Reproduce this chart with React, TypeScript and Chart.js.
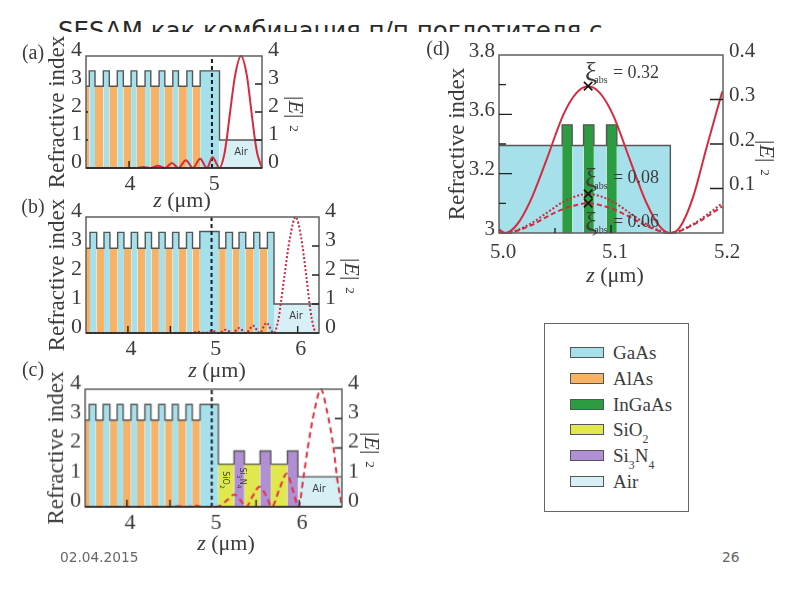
import React, { useEffect, useRef } from "react";
import { Chart, registerables } from "chart.js";

Chart.register(...registerables);

const SERIF = '"Liberation Serif", serif';
const SANS = '"DejaVu Sans", sans-serif';
const INK = "#3c3c3c";

const materialColors: Record<string, string> = {
  GaAs: "#a6e0ea",
  AlAs: "#f8b266",
  InGaAs: "#2c9c40",
  SiO2: "#e0e84e",
  Si3N4: "#b18fd4",
  Air: "#d6f0f5",
};

const slideTitle = "SESAM как комбинация п/п поглотителя с";
const slideDate = "02.04.2015";
const slidePage = "26";

// Panel (a)
const aEdges = [3.488, 3.527, 3.595, 3.694, 3.765, 3.86, 3.932, 4.024, 4.092, 4.19, 4.258, 4.357, 4.425, 4.52, 4.587, 4.687, 4.754, 4.845, 5.075, 5.58];
const aMaterials = ["AlAs", "GaAs", "AlAs", "GaAs", "AlAs", "GaAs", "AlAs", "GaAs", "AlAs", "GaAs", "AlAs", "GaAs", "AlAs", "GaAs", "AlAs", "GaAs", "AlAs", "GaAs", "Air"];
const aIndex = [2.92, 3.47, 2.92, 3.47, 2.92, 3.47, 2.92, 3.47, 2.92, 3.47, 2.92, 3.47, 2.92, 3.47, 2.92, 3.47, 2.92, 3.47, 1];
const aFieldZ = [3.49, 4.083, 4.17, 4.258, 4.342, 4.429, 4.508, 4.587, 4.675, 4.758, 4.845, 4.925, 4.992, 5.075, 5.133, 5.159, 5.201, 5.26, 5.33, 5.4, 5.455, 5.497, 5.525, 5.58];
const aFieldE = [0, 0, 0.04, 0, 0.08, 0, 0.18, 0, 0.28, 0, 0.33, 0, 0.38, 0, 0.5, 1, 2, 3.3, 4, 3.3, 2, 1, 0.5, 0];

// Panel (b)
const bEdges = [3.506, 3.553, 3.632, 3.718, 3.788, 3.879, 3.953, 4.039, 4.114, 4.204, 4.278, 4.365, 4.439, 4.526, 4.6, 4.69, 4.761, 4.847, 5.074, 5.153, 5.232, 5.309, 5.388, 5.482, 5.553, 5.643, 5.721, 6.251];
const bMaterials = ["AlAs", "GaAs", "AlAs", "GaAs", "AlAs", "GaAs", "AlAs", "GaAs", "AlAs", "GaAs", "AlAs", "GaAs", "AlAs", "GaAs", "AlAs", "GaAs", "AlAs", "GaAs", "AlAs", "GaAs", "AlAs", "GaAs", "AlAs", "GaAs", "AlAs", "GaAs", "Air"];
const bIndex = [2.92, 3.47, 2.92, 3.47, 2.92, 3.47, 2.92, 3.47, 2.92, 3.47, 2.92, 3.47, 2.92, 3.47, 2.92, 3.47, 2.92, 3.5, 2.92, 3.47, 2.92, 3.47, 2.92, 3.47, 2.92, 3.47, 1];
const bFieldZ = [3.506, 4.5, 4.74, 4.827, 4.906, 4.992, 5.074, 5.153, 5.232, 5.31, 5.388, 5.475, 5.553, 5.631, 5.718, 5.775, 5.8, 5.845, 5.91, 5.976, 6.04, 6.1, 6.14, 6.165, 6.22, 6.25];
const bFieldE = [0, 0, 0, 0.04, 0, 0.08, 0, 0.11, 0, 0.17, 0, 0.25, 0, 0.35, 0, 0.5, 1, 2, 3.3, 4, 3.3, 2, 1, 0.5, 0, 0.05];

// Panel (c)
const cEdges = [3.515, 3.562, 3.64, 3.724, 3.802, 3.887, 3.957, 4.047, 4.12, 4.209, 4.279, 4.369, 4.442, 4.527, 4.597, 4.686, 4.759, 4.849, 5.062, 5.244, 5.364, 5.547, 5.671, 5.864, 5.985, 6.497];
const cMaterials = ["AlAs", "GaAs", "AlAs", "GaAs", "AlAs", "GaAs", "AlAs", "GaAs", "AlAs", "GaAs", "AlAs", "GaAs", "AlAs", "GaAs", "AlAs", "GaAs", "AlAs", "GaAs", "SiO2", "Si3N4", "SiO2", "Si3N4", "SiO2", "Si3N4", "Air"];
const cIndex = [2.95, 3.48, 2.95, 3.48, 2.95, 3.48, 2.95, 3.48, 2.95, 3.48, 2.95, 3.48, 2.95, 3.48, 2.95, 3.48, 2.95, 3.48, 1.45, 1.9, 1.45, 1.9, 1.45, 1.9, 1.02];
const cFieldZ = [3.515, 4.5, 4.6, 4.7, 4.79, 4.88, 4.985, 5.08, 5.17, 5.248, 5.32, 5.384, 5.46, 5.539, 5.62, 5.682, 5.77, 5.857, 5.93, 5.992, 6.05, 6.1, 6.18, 6.252, 6.32, 6.4, 6.44, 6.496];
const cFieldE = [0, 0, 0.02, 0, 0.04, 0, 0, 0.04, 0.24, 0.42, 0.22, 0, 0.36, 0.68, 0.36, 0, 0.6, 1.13, 0.55, 0, 1, 2, 3.3, 4, 3.3, 2, 1, 0];

// Panel (d)
const dEdges = [5.0, 5.0564, 5.0653, 5.0755, 5.0847, 5.096, 5.1052, 5.153];
const dMaterials = ["GaAs", "InGaAs", "GaAs", "InGaAs", "GaAs", "InGaAs", "GaAs"];
const dIndex = [3.393, 3.486, 3.393, 3.486, 3.393, 3.486, 3.393];
const dSolidZ = [5.0, 5.0053, 5.0158, 5.0276, 5.0425, 5.0573, 5.0692, 5.0796, 5.09, 5.1019, 5.1168, 5.1316, 5.1435, 5.153, 5.1613, 5.1732, 5.1851, 5.194, 5.1994];
const dSolidE = [0.008, 0, 0.018, 0.07, 0.165, 0.265, 0.315, 0.33, 0.315, 0.265, 0.165, 0.068, 0.015, 0, 0.012, 0.08, 0.19, 0.27, 0.318];
const dDottedZ = [5.0, 5.0053, 5.0276, 5.0425, 5.0573, 5.0692, 5.0796, 5.09, 5.1019, 5.1168, 5.1316, 5.153, 5.1732, 5.1851, 5.1994];
const dDottedE = [0.002, 0, 0.02, 0.045, 0.07, 0.083, 0.088, 0.083, 0.07, 0.045, 0.02, 0, 0.02, 0.04, 0.067];
const dDashedZ = [5.0, 5.0053, 5.0276, 5.0425, 5.0573, 5.0692, 5.0796, 5.09, 5.1019, 5.1168, 5.1316, 5.153, 5.1732, 5.1851, 5.1994];
const dDashedE = [0.002, 0, 0.016, 0.036, 0.054, 0.063, 0.067, 0.063, 0.054, 0.036, 0.016, 0, 0.018, 0.036, 0.06];
const dMarkerZ = [5.0796, 5.0796, 5.0796];
const dMarkerE = [0.33, 0.088, 0.067];
const dLeftTickLabels = ["3", "", "3.2", "", "3.6", "", "3.8"];

const legendItems = ["GaAs", "AlAs", "InGaAs", "SiO2", "Si3N4", "Air"];

function pts(xs: number[], ys: number[]) {
  return xs.map((x, i) => ({ x, y: ys[i] }));
}

function layerDatasets(edges: number[], mats: string[], idx: number[]) {
  return mats.map((m, i) => ({
    label: m,
    data: [{ x: edges[i], y: idx[i] }, { x: edges[i + 1], y: idx[i] }],
    yAxisID: "y",
    fill: "start",
    backgroundColor: materialColors[m],
    borderWidth: 0,
    pointRadius: 0,
  }));
}

function profileDataset(edges: number[], idx: number[], endY: number | null) {
  const data: { x: number; y: number }[] = [];
  idx.forEach((n, i) => {
    data.push({ x: edges[i], y: n });
    data.push({ x: edges[i + 1], y: n });
  });
  if (endY !== null) data.push({ x: edges[edges.length - 1], y: endY });
  return { label: "profile", data, yAxisID: "y", borderColor: "#555", borderWidth: 1.4, pointRadius: 0, fill: false };
}

function fieldDataset(xs: number[], ys: number[], color: string, dash: number[], width = 2) {
  return {
    label: "|E|2",
    data: pts(xs, ys),
    yAxisID: "yE",
    borderColor: color,
    borderWidth: width,
    borderDash: dash,
    pointRadius: 0,
    fill: false,
    cubicInterpolationMode: "monotone",
    clip: 4,
  };
}

type PanelSpec = {
  left: number; right: number; top: number; bottom: number; yW: number;
  xMin: number; xMax: number; xStep: number; xFixed: number; xOffset: number; xPad: number;
  yMin: number; yMax: number; eMax: number; eStep: number; yCount?: number;
  yLabels?: string[]; font: number; baseDark: boolean; yOffset: number;
  datasets: any[];
  ticksX: [number, number][]; ticksL: [number, number][]; ticksR: [number, number][];
};

const dashLine = (y1: number) => ({
  label: "z=5",
  data: [{ x: 4.985, y: 0 }, { x: 4.985, y: y1 }],
  yAxisID: "y",
  borderColor: "#1a1a2a",
  borderWidth: 2,
  borderDash: [4, 3],
  pointRadius: 0,
  fill: false,
});

const panels: PanelSpec[] = [
  {
    left: 86, right: 262, top: 56, bottom: 168, yW: 42,
    xMin: 3.488, xMax: 5.58, xStep: 1, xFixed: 0, xOffset: 1, xPad: 3,
    yMin: 0, yMax: 4, eMax: 4, eStep: 1, font: 22, baseDark: true, yOffset: -6,
    datasets: [fieldDataset(aFieldZ, aFieldE, "#d62b3f", []), dashLine(4), profileDataset(aEdges, aIndex, null), ...layerDatasets(aEdges, aMaterials, aIndex)],
    ticksX: [[4, 7]], ticksL: [[1, 2], [2, 2]], ticksR: [[3, 7], [2, 7], [1, 7]],
  },
  {
    left: 86, right: 319, top: 217, bottom: 333, yW: 42,
    xMin: 3.506, xMax: 6.251, xStep: 1, xFixed: 0, xOffset: 3, xPad: 3,
    yMin: 0, yMax: 4, eMax: 4, eStep: 1, font: 22, baseDark: true, yOffset: -6,
    datasets: [fieldDataset(bFieldZ, bFieldE, "#c42a40", [2, 2]), dashLine(4), profileDataset(bEdges, bIndex, null), ...layerDatasets(bEdges, bMaterials, bIndex)],
    ticksX: [[4, 7], [4.5, 7], [6, 7]], ticksL: [], ticksR: [[3, 7], [2, 7], [1, 7]],
  },
  {
    left: 85.3, right: 341.7, top: 389, bottom: 506.7, yW: 42,
    xMin: 3.515, xMax: 6.497, xStep: 1, xFixed: 0, xOffset: 3, xPad: 3,
    yMin: 0, yMax: 4, eMax: 4, eStep: 1, font: 22, baseDark: true, yOffset: -6,
    datasets: [fieldDataset(cFieldZ, cFieldE, "#e2303f", [6, 4]), dashLine(4), profileDataset(cEdges, cIndex, null), ...layerDatasets(cEdges, cMaterials, cIndex)],
    ticksX: [[4, 7], [4.5, 7], [5.5, 7], [6, 7]], ticksL: [], ticksR: [[3, 7], [2, 7]],
  },
  {
    left: 499, right: 723.3, top: 55, bottom: 233.3, yW: 55,
    xMin: 5, xMax: 5.2, xStep: 0.1, xFixed: 1, xOffset: 4, xPad: 7,
    yMin: 3, yMax: 3.8, eMax: 0.4, eStep: 0.1, yCount: 7, yLabels: dLeftTickLabels, font: 21, baseDark: false, yOffset: -4,
    datasets: [
      {
        label: "abs",
        type: "scatter",
        data: pts(dMarkerZ, dMarkerE),
        yAxisID: "yE",
        pointStyle: "crossRot",
        pointRadius: 6,
        pointBorderColor: "#111",
        pointBorderWidth: 1.6,
        showLine: false,
      },
      fieldDataset(dSolidZ, dSolidE, "#d62b3f", []),
      fieldDataset(dDottedZ, dDottedE, "#c42a40", [2, 2]),
      fieldDataset(dDashedZ, dDashedE, "#d62b3f", [5, 3]),
      profileDataset(dEdges, dIndex, 3),
      ...layerDatasets(dEdges, dMaterials, dIndex),
    ],
    ticksX: [[5.05, 5], [5.1, 8]],
    ticksL: [[3.133, 7], [3.267, 13], [3.4, 7], [3.533, 13], [3.667, 7]],
    ticksR: [[0.3, 13], [0.2, 13], [0.1, 13]],
  },
];

function framePlugin(p: PanelSpec) {
  return {
    id: "frame",
    afterDatasetsDraw(chart: any) {
      const { ctx, chartArea: a, scales } = chart;
      ctx.save();
      ctx.strokeStyle = "#5f5f5f";
      ctx.lineWidth = 1.5;
      ctx.strokeRect(a.left, a.top, a.right - a.left, a.bottom - a.top);
      if (p.baseDark) {
        ctx.strokeStyle = "#222";
        ctx.lineWidth = 1.6;
        ctx.beginPath();
        ctx.moveTo(a.left, a.bottom);
        ctx.lineTo(a.right, a.bottom);
        ctx.stroke();
      }
      ctx.strokeStyle = "#222";
      ctx.lineWidth = 1.4;
      ctx.beginPath();
      p.ticksX.forEach(([v, len]) => {
        const x = scales.x.getPixelForValue(v);
        ctx.moveTo(x, a.bottom);
        ctx.lineTo(x, a.bottom - len);
      });
      p.ticksL.forEach(([v, len]) => {
        const y = scales.y.getPixelForValue(v);
        ctx.moveTo(a.left, y);
        ctx.lineTo(a.left + len, y);
      });
      p.ticksR.forEach(([v, len]) => {
        const y = scales.yE.getPixelForValue(v);
        ctx.moveTo(a.right, y);
        ctx.lineTo(a.right - len, y);
      });
      ctx.stroke();
      ctx.restore();
    },
  };
}

const CANVAS_TOP = 30;
const CANVAS_BOTTOM = 40;
const RIGHT_W = 36;

function Panel({ p }: { p: PanelSpec }) {
  const ref = useRef<HTMLCanvasElement>(null);
  const width = p.right - p.left + p.yW + RIGHT_W;
  const height = p.bottom - p.top + CANVAS_TOP + CANVAS_BOTTOM;
  useEffect(() => {
    const font = { family: SERIF, size: p.font };
    const chart = new Chart(ref.current as HTMLCanvasElement, {
      type: "line",
      data: { datasets: p.datasets },
      plugins: [framePlugin(p)],
      options: {
        animation: false,
        responsive: false,
        layout: { padding: { top: CANVAS_TOP, left: 0, right: 0, bottom: 0 } },
        plugins: { legend: { display: false }, tooltip: { enabled: false } },
        scales: {
          x: {
            type: "linear",
            min: p.xMin,
            max: p.xMax,
            grid: { display: false, drawTicks: false },
            border: { display: false },
            ticks: {
              stepSize: p.xStep,
              includeBounds: false,
              font,
              color: INK,
              padding: p.xPad,
              labelOffset: p.xOffset,
              maxRotation: 0,
              callback: (v: any) => Number(v).toFixed(p.xFixed),
            },
            afterFit: (s: any) => { s.height = CANVAS_BOTTOM; },
          },
          y: {
            type: "linear",
            position: "left",
            min: p.yMin,
            max: p.yMax,
            grid: { display: false, drawTicks: false },
            border: { display: false },
            title: { display: true, text: "Refractive index", font: { family: SERIF, size: 23 }, color: INK, padding: 0 },
            ticks: {
              ...(p.yCount ? { count: p.yCount } : { stepSize: 1 }),
              autoSkip: false,
              font,
              color: INK,
              padding: 4,
              labelOffset: p.yOffset,
              callback: (v: any, i: number) => (p.yLabels ? p.yLabels[i] : String(v)),
            },
            afterFit: (s: any) => { s.width = p.yW; },
          },
          yE: {
            type: "linear",
            position: "right",
            min: 0,
            max: p.eMax,
            grid: { display: false, drawTicks: false },
            border: { display: false },
            ticks: {
              stepSize: p.eStep,
              autoSkip: false,
              font,
              color: INK,
              padding: 6,
              labelOffset: p.yOffset,
              callback: (v: any) => {
                const n = Number(v);
                if (p.eMax < 1) return n === 0 ? "" : n.toFixed(1);
                return String(n);
              },
            },
            afterFit: (s: any) => { s.width = RIGHT_W; },
          },
        },
      },
    } as any);
    return () => chart.destroy();
  }, [p]);
  return (
    <canvas
      ref={ref}
      width={width}
      height={height}
      style={{ position: "absolute", left: p.left - p.yW, top: p.top - CANVAS_TOP, width, height }}
    />
  );
}

function Label({ x, y, size, font = SERIF, color = INK, rotate = 0, children }: any) {
  return (
    <div
      style={{
        position: "absolute",
        left: x,
        top: y,
        transform: `translate(-50%,-50%) rotate(${rotate}deg)`,
        fontFamily: font,
        fontSize: size,
        color,
        whiteSpace: "nowrap",
        lineHeight: 1,
      }}
    >
      {children}
    </div>
  );
}

const Sub = ({ children, d = 0.35 }: any) => (
  <span style={{ fontSize: "0.62em", position: "relative", top: `${d}em` }}>{children}</span>
);

function Xi({ x, y, valueY, value }: { x: number; y: number; valueY: number; value: string }) {
  return (
    <>
      <Label x={x} y={y} size={27}>ξ</Label>
      <Label x={x + 10} y={y + 8} size={10}>abs</Label>
      <Label x={x + 45} y={valueY} size={18}>= {value}</Label>
    </>
  );
}

function LegendText({ name }: { name: string }) {
  if (name === "SiO2") return <>SiO<Sub d={0.6}>2</Sub></>;
  if (name === "Si3N4") return <>Si<Sub d={0.6}>3</Sub>N<Sub d={0.6}>4</Sub></>;
  return <>{name}</>;
}

const EField = () => (
  <>|<i>E</i>|<span style={{ fontSize: "0.6em", position: "relative", top: "-0.1em", marginLeft: 7 }}>2</span></>
);
const ZLabel = () => (
  <><i>z</i> (μm)</>
);

export default function App() {
  return (
    <div style={{ position: "fixed", left: 0, top: 0, width: 800, height: 600, background: "#fff", overflow: "hidden" }}>
      <div style={{ position: "absolute", left: 58, top: 0, width: 640, height: 32, overflow: "hidden" }}>
        <div style={{ position: "absolute", left: 0, top: 16, fontFamily: SANS, fontSize: 24.5, color: "#2a2a2a", whiteSpace: "nowrap", lineHeight: 1.2 }}>
          {slideTitle}
        </div>
      </div>

      {panels.map((p, i) => <Panel key={i} p={p} />)}

      <Label x={33} y={52} size={20}>(a)</Label>
      <Label x={33} y={206} size={20}>(b)</Label>
      <Label x={33} y={369} size={20}>(c)</Label>
      <Label x={438} y={48} size={20}>(d)</Label>

      <Label x={182} y={200} size={22}><ZLabel /></Label>
      <Label x={217} y={370} size={22}><ZLabel /></Label>
      <Label x={226} y={543} size={22}><ZLabel /></Label>
      <Label x={615} y={275} size={22}><ZLabel /></Label>

      <Label x={296} y={114} size={22} rotate={90}><EField /></Label>
      <Label x={352} y={276} size={22} rotate={90}><EField /></Label>
      <Label x={372} y={450} size={22} rotate={90}><EField /></Label>
      <Label x={767} y={158} size={22} rotate={90}><EField /></Label>

      <Label x={241} y={152} size={10} font={SANS}>Air</Label>
      <Label x={296} y={316} size={10} font={SANS}>Air</Label>
      <Label x={319} y={489} size={10} font={SANS}>Air</Label>
      <Label x={224} y={480} size={8} font={SANS} rotate={90}>SiO<sub style={{ fontSize: 6 }}>2</sub></Label>
      <Label x={241} y={478} size={8} font={SANS} rotate={90}>Si<sub style={{ fontSize: 6 }}>3</sub>N<sub style={{ fontSize: 6 }}>4</sub></Label>

      <Xi x={591} y={72} valueY={72} value="0.32" />
      <Xi x={591} y={178} valueY={177} value="0.08" />
      <Xi x={591} y={222} valueY={221} value="0.06" />

      <div style={{ position: "absolute", left: 544, top: 323, width: 143, height: 187, border: "1.5px solid #666", boxSizing: "content-box" }} />
      {legendItems.map((m, i) => {
        const cy = [353, 379, 405, 430, 456, 482][i];
        return (
          <React.Fragment key={m}>
            <div style={{ position: "absolute", left: 570, top: cy - 6, width: 32, height: 9, background: materialColors[m], border: "1.5px solid #555" }} />
            <div style={{ position: "absolute", left: 613, top: cy - 11, fontFamily: SERIF, fontSize: 19, color: INK, lineHeight: "22px", whiteSpace: "nowrap" }}>
              <LegendText name={m} />
            </div>
          </React.Fragment>
        );
      })}

      <div style={{ position: "absolute", left: 60, top: 550, fontFamily: SANS, fontSize: 13.7, color: "#666", lineHeight: "15px" }}>{slideDate}</div>
      <div style={{ position: "absolute", left: 722, top: 550, fontFamily: SANS, fontSize: 13.7, color: "#666", lineHeight: "15px" }}>{slidePage}</div>
    </div>
  );
}
